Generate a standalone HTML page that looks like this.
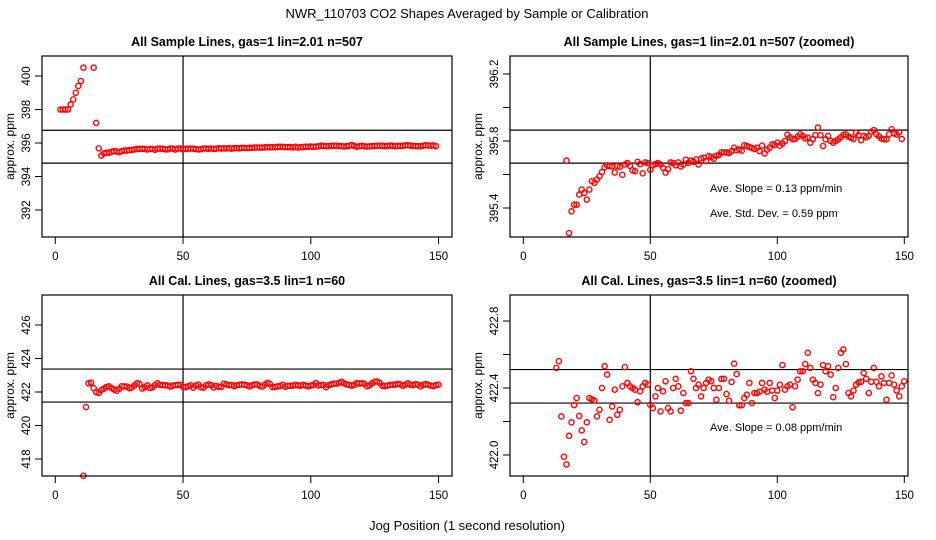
<!DOCTYPE html>
<html><head><meta charset="utf-8">
<style>
html,body{margin:0;padding:0;background:#fff;width:936px;height:540px;overflow:hidden;}
svg{display:block;font-family:"Liberation Sans",sans-serif;}
</style></head>
<body>
<svg id="chart" width="936" height="540" viewBox="0 0 936 540" xmlns="http://www.w3.org/2000/svg">
<text x="467" y="18" font-size="13" text-anchor="middle">NWR_110703  CO2 Shapes Averaged by Sample or Calibration</text>
<text x="467" y="530" font-size="13" text-anchor="middle">Jog Position (1 second resolution)</text>
</svg>
<script>
// Sample series: x positions starting at 2, values (null = no point)
const sampleStart = 2;
const sampleValues = [398.0,398.0,398.0,398.0,398.3,398.6,399.0,399.4,399.7,400.5,null,null,null,400.5,397.2,395.683,
395.25,395.38,395.42,395.42,395.48,395.51,395.49,395.45,395.51,395.56,395.55,395.57,395.59,395.615,395.643,
395.655,395.65,395.648,395.612,395.65,395.645,395.598,395.66,395.668,395.652,395.625,395.62,395.675,395.662,395.607,395.672,395.668,
395.628,395.655,395.662,395.668,395.66,395.64,395.612,395.632,395.672,395.668,395.655,395.672,395.648,395.66,395.688,395.67,395.683,395.676,395.69,395.66,
395.695,395.7,395.68,395.71,395.705,395.694,395.712,395.716,395.732,395.732,395.732,395.728,395.74,395.76,395.745,395.75,395.742,395.775,395.77,395.765,
395.758,395.752,395.76,395.74,395.772,395.726,395.748,395.76,395.78,395.776,395.79,395.772,395.785,395.8,395.838,395.822,395.81,395.812,395.826,395.84,
395.83,395.815,395.82,395.79,395.812,395.835,395.88,395.835,395.77,395.81,395.83,395.8,395.79,395.8,395.81,395.822,395.836,395.84,395.826,395.82,
395.812,395.85,395.835,395.805,395.83,395.822,395.83,395.855,395.865,395.84,395.828,395.815,395.81,395.81,395.84,395.87,395.845,395.838,395.852,395.812];
// Calibration series: x positions starting at 11
const calStart = 11;
const calValues = [417.0,421.1,
422.52,422.56,422.23,421.99,421.944,422.115,422.195,422.298,422.34,422.233,422.147,422.078,422.195,422.34,422.332,422.325,422.23,422.27,
422.40,422.53,422.48,422.21,422.29,422.39,422.24,422.27,422.41,422.525,422.43,422.41,422.40,422.39,422.315,422.38,422.41,422.43,422.42,422.30,
422.28,422.35,422.40,422.26,422.38,422.44,422.28,422.26,422.40,422.455,422.41,422.265,422.37,422.31,422.31,422.50,422.455,422.40,422.42,422.35,
422.40,422.43,422.45,422.44,422.40,
422.33,422.40,422.454,422.455,422.364,422.324,422.436,422.545,422.483,422.297,422.297,422.34,422.36,422.43,422.31,422.37,422.37,422.378,422.43,422.39,
422.378,422.43,422.385,422.34,422.385,422.42,422.537,422.39,422.41,422.42,422.285,422.41,422.45,422.50,422.50,422.543,422.61,422.52,422.45,422.43,
422.37,422.42,422.537,422.50,422.53,422.48,422.345,422.40,422.52,422.61,422.63,422.543,422.37,422.35,422.385,422.42,422.433,422.437,422.49,422.455,
422.37,422.437,422.52,422.437,422.41,422.47,422.43,422.33,422.43,422.475,422.42,422.385,422.35,422.41,422.44];
const xTicks = [0,50,100,150];
const tlTicks = [392,394,396,398,400];
const trTicks = [395.4,395.6,395.8,396.0,396.2];
const trLabels = ["395.4","","395.8","","396.2"];
const blTicks = [418,420,422,424,426];
const brTicks = [422.0,422.2,422.4,422.6,422.8];
const brLabels = ["422.0","","422.4","","422.8"];
const tlRefs = [396.76,394.8];
const trRefs = [395.865,395.668];
const blRefs = [423.37,421.4];
const brRefs = [422.51,422.31];

const NS = "http://www.w3.org/2000/svg";
const svg = document.getElementById('chart');
function mk(tag, attrs, parent){
  const e = document.createElementNS(NS, tag);
  for (const k in attrs) e.setAttribute(k, attrs[k]);
  (parent||svg).appendChild(e);
  return e;
}
const panels = [
  {id:'tl', title:'All Sample Lines, gas=1 lin=2.01 n=507', L:42,R:452,T:56,B:237, x0:55.3, xs:2.555, v0:396, y0:143, ys:16.75, ticks:tlTicks, labels:null, refs:tlRefs, start:sampleStart, vals:sampleValues, notes:[]},
  {id:'tr', title:'All Sample Lines, gas=1 lin=2.01 n=507 (zoomed)', L:510,R:908,T:56,B:237, x0:523.3, xs:2.54, v0:395.8, y0:141, ys:167.5, ticks:trTicks, labels:trLabels, refs:trRefs, start:sampleStart, vals:sampleValues, notes:['Ave. Slope =  0.13  ppm/min','Ave. Std. Dev. =  0.59  ppm']},
  {id:'bl', title:'All Cal. Lines, gas=3.5 lin=1 n=60', L:42,R:452,T:295,B:476, x0:55.3, xs:2.555, v0:422, y0:392, ys:16.75, ticks:blTicks, labels:null, refs:blRefs, start:calStart, vals:calValues, notes:[]},
  {id:'br', title:'All Cal. Lines, gas=3.5 lin=1 n=60 (zoomed)', L:510,R:908,T:295,B:476, x0:523.3, xs:2.54, v0:422.4, y0:388, ys:167.5, ticks:brTicks, labels:brLabels, refs:brRefs, start:calStart, vals:calValues, notes:['Ave. Slope =  0.08  ppm/min']}
];
panels.forEach(p => {
  const g = mk('g', {});
  
  
  const xS = x => p.x0 + x * p.xs;
  const yS = v => p.y0 - (v - p.v0) * p.ys;
  const t = mk('text', {x:(p.L+p.R)/2, y:p.T-10, 'font-size':12.5, 'font-weight':'bold', 'text-anchor':'middle'}, g);
  t.textContent = p.title;
  
  
  const yl = mk('text', {x:0, y:0, 'font-size':12, 'text-anchor':'middle', transform:`translate(${p.L-28},${(p.T+p.B)/2}) rotate(-90)`}, g);
  yl.textContent = 'approx. ppm';
  
  
  xTicks.forEach(v => {
    const x = xS(v);
    const tk = mk('line', {x1:x, x2:x, y1:p.B, y2:p.B+7, stroke:'#000', 'stroke-width':1}, g);
    
    
    const tl = mk('text', {x:x, y:p.B+23, 'font-size':11.5, 'text-anchor':'middle'}, g);
    tl.textContent = v;
    
    
  });
  p.ticks.forEach((v, i) => {
    const y = yS(v);
    const tk = mk('line', {x1:p.L-7, x2:p.L, y1:y, y2:y, stroke:'#000', 'stroke-width':1}, g);
    
    
    const lab = p.labels ? p.labels[i] : String(v);
    if (lab) {
      const tl = mk('text', {x:0, y:0, 'font-size':11.5, 'text-anchor':'middle', transform:`translate(${p.L-12},${y}) rotate(-90)`}, g);
      tl.textContent = lab;
      
      
    }
  });
  p.refs.forEach(v => {
    const y = yS(v);
    const ln = mk('line', {x1:p.L, x2:p.R, y1:y, y2:y, stroke:'#000', 'stroke-width':1.2}, g);
    
    
  });
  const vl = mk('line', {x1:xS(50), x2:xS(50), y1:p.T, y2:p.B, stroke:'#000', 'stroke-width':1.2}, g);
  
  
  const pts = mk('g', {}, g);
  
  
  p.vals.forEach((v, i) => {
    if (v === null) return;
    const cx = xS(p.start + i), cy = yS(v);
    if (cy < p.T - 1 || cy > p.B + 1 || cx < p.L || cx > p.R) return;
    const c = mk('circle', {cx:cx, cy:cy, r:2.6, fill:'none', stroke:'#f00', 'stroke-width':1.4}, pts);
    
    
  });
  p.notes.forEach((n, i) => {
    const tx = mk('text', {x:p.L+200, y:p.id==='tr' ? 192 + i*25 : 431, 'font-size':11}, g);
    tx.textContent = n;
    
    
  });
  const box = mk('rect', {x:p.L, y:p.T, width:p.R-p.L, height:p.B-p.T, fill:'none', stroke:'#000', 'stroke-width':1.2}, g);
  
  
});
</script>
</body></html>
